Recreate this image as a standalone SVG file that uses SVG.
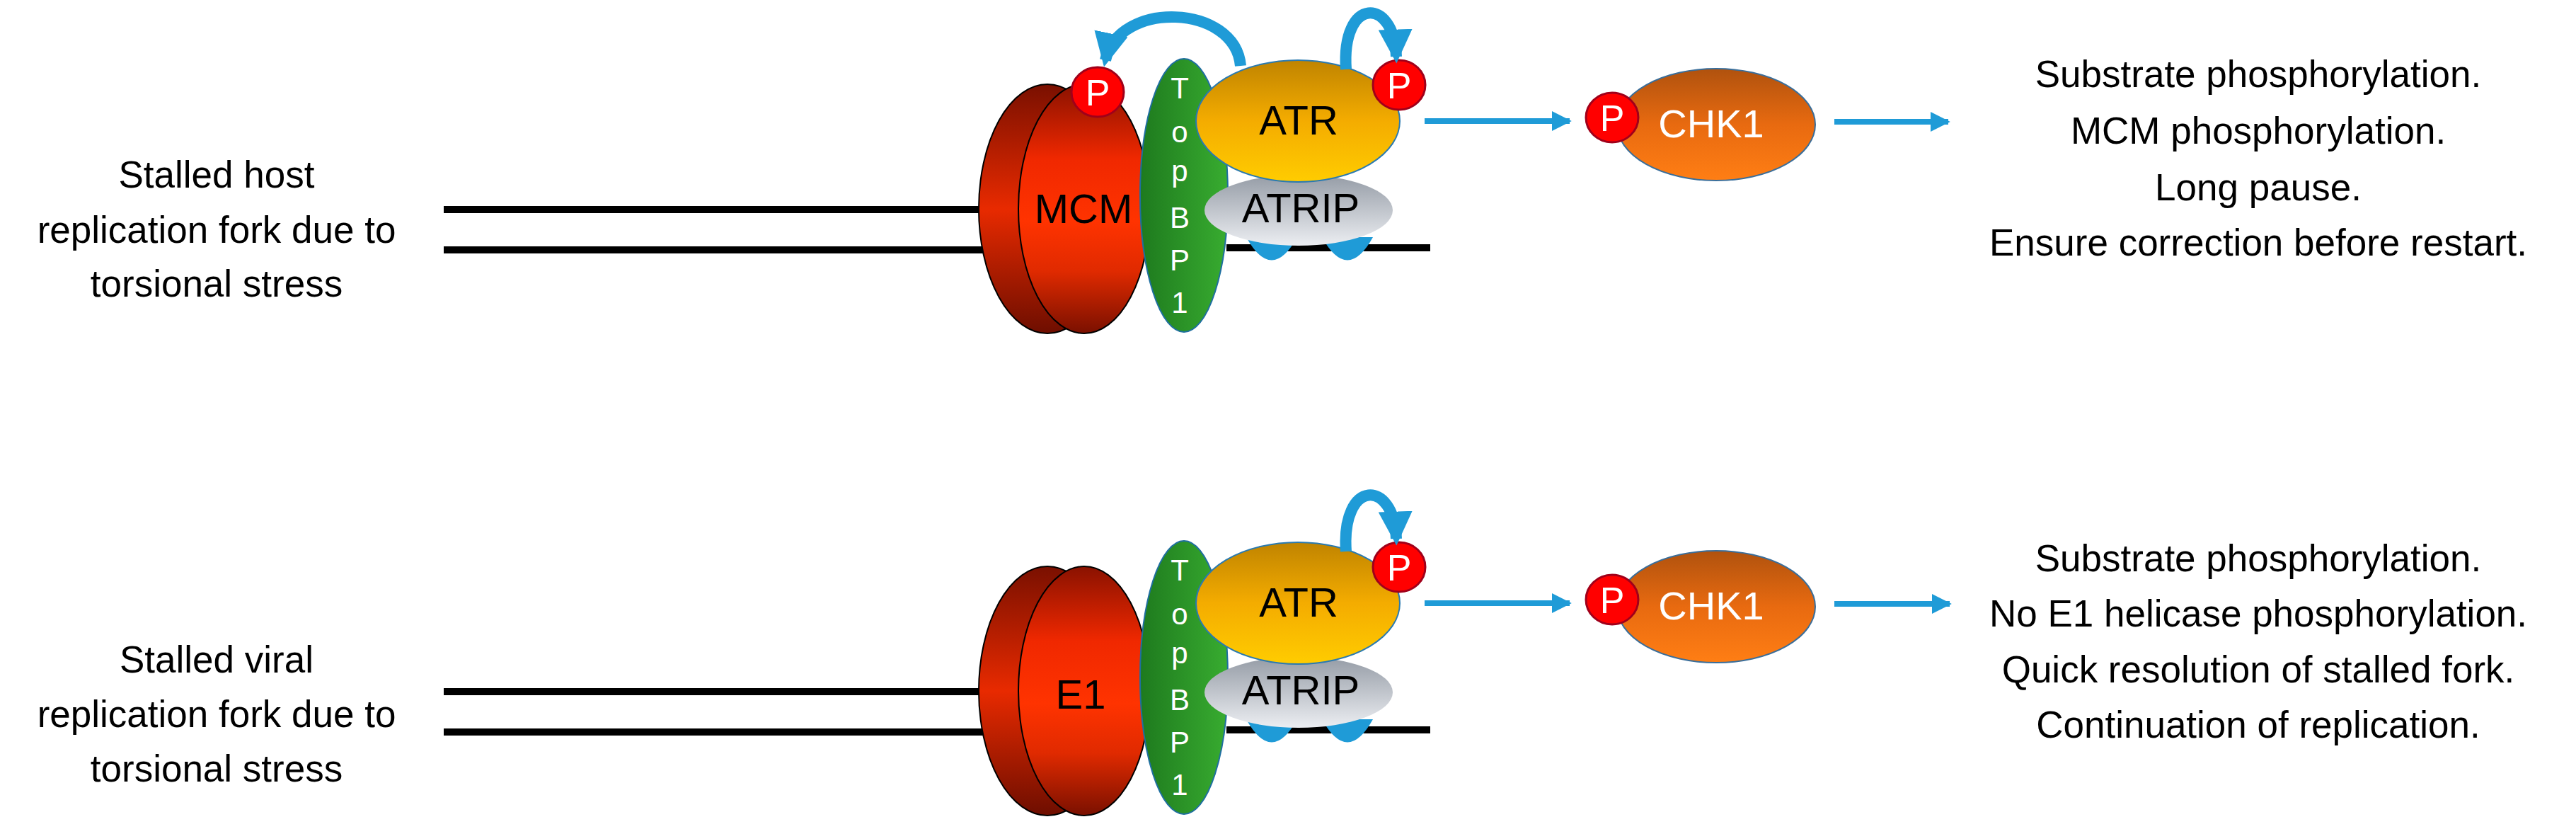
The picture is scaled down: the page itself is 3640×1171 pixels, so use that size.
<svg xmlns="http://www.w3.org/2000/svg" width="3640" height="1171" viewBox="0 0 3640 1171">
<defs>
<linearGradient id="red" x1="0" y1="0" x2="0" y2="1"><stop offset="0" stop-color="#8a1200"/><stop offset="0.3" stop-color="#f02800"/><stop offset="0.55" stop-color="#ff3300"/><stop offset="0.75" stop-color="#e02a00"/><stop offset="1" stop-color="#7a1000"/></linearGradient>
<linearGradient id="redb" x1="0" y1="0" x2="0" y2="1"><stop offset="0" stop-color="#7a1000"/><stop offset="0.5" stop-color="#e82a00"/><stop offset="1" stop-color="#6e0e00"/></linearGradient>
<linearGradient id="green" x1="0" y1="0" x2="1" y2="0"><stop offset="0" stop-color="#1e7a1e"/><stop offset="1" stop-color="#38ac30"/></linearGradient>
<linearGradient id="atr" x1="0" y1="0" x2="0" y2="1"><stop offset="0" stop-color="#c08400"/><stop offset="0.5" stop-color="#f4ac00"/><stop offset="1" stop-color="#ffcc00"/></linearGradient>
<linearGradient id="gray" x1="0" y1="0" x2="0" y2="1"><stop offset="0" stop-color="#959ca6"/><stop offset="1" stop-color="#eceef2"/></linearGradient>
<linearGradient id="chk" x1="0" y1="0" x2="0" y2="1"><stop offset="0" stop-color="#b0520e"/><stop offset="0.5" stop-color="#e86a10"/><stop offset="1" stop-color="#ff7e14"/></linearGradient>
<marker id="ah" viewBox="0 0 10 10" refX="9" refY="5" markerWidth="3.5" markerHeight="4" orient="auto" markerUnits="strokeWidth"><path d="M0,0 L10,5 L0,10 z" fill="#1f9bd7"/></marker>
<marker id="ah2" viewBox="0 0 10 10" refX="8" refY="5" markerWidth="3" markerHeight="3" orient="auto" markerUnits="strokeWidth"><path d="M0,0 L10,5 L0,10 z" fill="#1f9bd7"/></marker>
<g id="pbadge"><ellipse cx="0" cy="0" rx="37" ry="35" fill="#ff0000" stroke="#a0001a" stroke-width="3"/><text x="0" y="19" class="pt">P</text></g>
</defs>
<style>
.lbl{font-family:"Liberation Sans",Arial,sans-serif;font-size:53px;fill:#000;text-anchor:middle}
.pt{font-family:"Liberation Sans",Arial,sans-serif;font-size:52px;fill:#fff;text-anchor:middle}
.in{font-family:"Liberation Sans",Arial,sans-serif;font-size:58px;fill:#000;text-anchor:middle}
.tb{font-family:"Liberation Sans",Arial,sans-serif;font-size:42px;fill:#fff;text-anchor:middle}
.chkt{font-family:"Liberation Sans",Arial,sans-serif;font-size:56px;fill:#fff;text-anchor:middle}
.dna{stroke:#000;stroke-width:10}
.arr{stroke:#1f9bd7;stroke-width:8;fill:none;marker-end:url(#ah)}
.curve{stroke:#1f9bd7;stroke-width:16;fill:none;marker-end:url(#ah2)}
</style>
<rect width="3640" height="1171" fill="#fff"/>

<g id="label-host"><text class="lbl" x="306" y="265">Stalled host</text><text class="lbl" x="306" y="343">replication fork due to</text><text class="lbl" x="306" y="419">torsional stress</text></g>
<g id="label-viral"><text class="lbl" x="306" y="950">Stalled viral</text><text class="lbl" x="306" y="1027">replication fork due to</text><text class="lbl" x="306" y="1104">torsional stress</text></g>

<g id="dna">
<line class="dna" x1="627" y1="296" x2="1450" y2="296"/><line class="dna" x1="627" y1="353" x2="1450" y2="353"/><line class="dna" x1="1733" y1="350" x2="2021" y2="350"/>
<line class="dna" x1="627" y1="977" x2="1450" y2="977"/><line class="dna" x1="627" y1="1034" x2="1450" y2="1034"/><line class="dna" x1="1733" y1="1031" x2="2021" y2="1031"/>
</g>

<g id="mcm"><ellipse cx="1480" cy="295" rx="97" ry="176" fill="url(#redb)" stroke="#000" stroke-width="2"/><ellipse cx="1532" cy="295" rx="93" ry="176" fill="url(#red)" stroke="#000" stroke-width="2"/><text class="in" x="1531" y="315">MCM</text></g>
<g id="e1"><ellipse cx="1480" cy="976" rx="97" ry="176" fill="url(#redb)" stroke="#000" stroke-width="2"/><ellipse cx="1532" cy="976" rx="93" ry="176" fill="url(#red)" stroke="#000" stroke-width="2"/><text class="in" x="1527" y="1001">E1</text></g>

<g id="topbp1-top"><ellipse cx="1673" cy="276" rx="62" ry="193" fill="url(#green)" stroke="#1f6fa0" stroke-width="2"/>
<text class="tb" x="1667" y="139">T</text><text class="tb" x="1667" y="201">o</text><text class="tb" x="1667" y="256">p</text><text class="tb" x="1667" y="322">B</text><text class="tb" x="1667" y="382">P</text><text class="tb" x="1667" y="442">1</text></g>
<g id="topbp1-bot"><ellipse cx="1673" cy="957" rx="62" ry="193" fill="url(#green)" stroke="#1f6fa0" stroke-width="2"/>
<text class="tb" x="1667" y="820">T</text><text class="tb" x="1667" y="882">o</text><text class="tb" x="1667" y="937">p</text><text class="tb" x="1667" y="1003">B</text><text class="tb" x="1667" y="1063">P</text><text class="tb" x="1667" y="1123">1</text></g>

<g id="atrip-top"><path d="M1761,335 Q1797,400 1833,335 Z M1868,335 Q1904,400 1940,335 Z" fill="#1f9bd7"/><ellipse cx="1835" cy="297" rx="133" ry="50" fill="url(#gray)"/><text class="in" x="1838" y="314">ATRIP</text></g>
<g id="atr-top"><ellipse cx="1834" cy="171" rx="144" ry="86" fill="url(#atr)" stroke="#2a7ab0" stroke-width="2"/><text class="in" x="1835" y="190">ATR</text></g>
<g id="atrip-bot"><path d="M1761,1016 Q1797,1081 1833,1016 Z M1868,1016 Q1904,1081 1940,1016 Z" fill="#1f9bd7"/><ellipse cx="1835" cy="978" rx="133" ry="50" fill="url(#gray)"/><text class="in" x="1838" y="995">ATRIP</text></g>
<g id="atr-bot"><ellipse cx="1834" cy="852" rx="144" ry="86" fill="url(#atr)" stroke="#2a7ab0" stroke-width="2"/><text class="in" x="1835" y="871">ATR</text></g>

<g id="p-mcm"><use href="#pbadge" x="1551" y="130"/></g>
<g id="p-atr-top"><use href="#pbadge" x="1977" y="120"/></g>
<g id="p-atr-bot"><use href="#pbadge" x="1977" y="801"/></g>

<g id="chk1-top"><ellipse cx="2425" cy="176" rx="140" ry="79" fill="url(#chk)" stroke="#3a6e9a" stroke-width="2"/><use href="#pbadge" x="2278" y="166"/><text class="chkt" x="2418" y="194">CHK1</text></g>
<g id="chk1-bot"><ellipse cx="2425" cy="857" rx="140" ry="79" fill="url(#chk)" stroke="#3a6e9a" stroke-width="2"/><use href="#pbadge" x="2278" y="847"/><text class="chkt" x="2418" y="875">CHK1</text></g>

<g id="outcome-top"><text class="lbl" x="3191" y="123">Substrate phosphorylation.</text><text class="lbl" x="3191" y="203">MCM phosphorylation.</text><text class="lbl" x="3191" y="283">Long pause.</text><text class="lbl" x="3191" y="361">Ensure correction before restart.</text></g>
<g id="outcome-bot"><text class="lbl" x="3191" y="807">Substrate phosphorylation.</text><text class="lbl" x="3191" y="885">No E1 helicase phosphorylation.</text><text class="lbl" x="3191" y="964">Quick resolution of stalled fork.</text><text class="lbl" x="3191" y="1042">Continuation of replication.</text></g>

<g id="connectors">
<path class="curve" d="M1753,93 C1745,5 1580,0 1562,85"/>
<path class="curve" d="M1902,98 C1895,-5 1970,-5 1973,80"/>
<path class="curve" d="M1902,779 C1895,676 1970,676 1973,761"/>
<line class="arr" x1="2013" y1="171" x2="2218" y2="171"/>
<line class="arr" x1="2592" y1="172" x2="2753" y2="172"/>
<line class="arr" x1="2013" y1="852" x2="2218" y2="852"/>
<line class="arr" x1="2592" y1="853" x2="2755" y2="853"/>
</g>
</svg>
